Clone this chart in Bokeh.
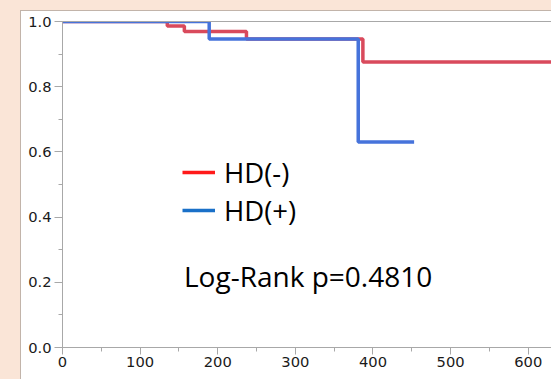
from bokeh.plotting import figure
from bokeh.models import (Range1d, SingleIntervalTicker, NumeralTickFormatter, Legend,
                          LegendItem, Label, LinearAxis, FixedTicker)
from bokeh.embed import file_html
from bokeh.resources import INLINE

# --- data (Kaplan-Meier step curves) ---
neg_time = [0, 135, 157, 237, 387, 640]
neg_surv = [1.0, 0.986, 0.969, 0.946, 0.876, 0.876]
pos_time = [0, 189, 381, 453]
pos_surv = [1.0, 0.946, 0.630, 0.630]
series_labels = ["HD(-)", "HD(+)"]
p_text = "Log-Rank p=0.4810"

PEACH = "#fae5d7"
EDGE = "#c2b4aa"
AX = "#a8a8a8"
NAN = float("nan")

p = figure(width=551, height=379, output_backend="svg", toolbar_location=None,
           x_range=Range1d(0, 630), y_range=Range1d(0, 1.0),
           min_border_left=62, min_border_right=0, min_border_top=21, min_border_bottom=32)
# transparent canvas border; the panel/peach surround is painted by the host element
p.border_fill_alpha = 0.0
p.background_fill_color = "white"
p.styles = {
    "background": (f"linear-gradient(white, white) 21px 11px / 100% 100% no-repeat, "
                   f"linear-gradient({EDGE}, {EDGE}) 20px 10px / 100% 100% no-repeat, "
                   f"{PEACH}"),
}
p.outline_line_color = None
p.grid.visible = False

# top frame line only (no right edge in the reference): an axis with no ticks
top_axis = LinearAxis(ticker=FixedTicker(ticks=[], minor_ticks=[]), axis_line_color=AX,
                      major_tick_line_color=None, minor_tick_line_color=None,
                      major_label_standoff=0, major_tick_out=0, minor_tick_out=0)
p.add_layout(top_axis, "above")

r_neg = p.step(neg_time, neg_surv, mode="after", line_color="#d94a5c", line_width=3.5)
r_pos = p.step(pos_time, pos_surv, mode="after", line_color="#4673db", line_width=3.5)

# legend swatches (no visible data)
l_neg = p.line(x=[NAN], y=[NAN], line_color="#ff1a1a", line_width=3.5)
l_pos = p.line(x=[NAN], y=[NAN], line_color="#1a70c8", line_width=3.5)
legend = Legend(items=[LegendItem(label=series_labels[0], renderers=[l_neg]),
                       LegendItem(label=series_labels[1], renderers=[l_pos])],
                location=(120, 118), orientation="vertical",
                glyph_width=33, glyph_height=38, spacing=0, padding=0, margin=0,
                label_standoff=9, label_text_font="Open Sans", label_text_font_size="27.5px",
                label_text_color="black", border_line_color=None,
                background_fill_alpha=0.0)
p.add_layout(legend, "center")

p.add_layout(Label(x=156.5, y=0.218, text=p_text, text_font="Open Sans",
                   text_font_size="28px", text_color="black", text_baseline="alphabetic"))

# axes
for ax in (p.below[0], p.left[0]):
    ax.axis_line_color = AX
    ax.major_tick_line_color = AX
    ax.minor_tick_line_color = AX
    ax.major_tick_in = 0
    ax.minor_tick_in = 0
    ax.major_label_text_font = "DejaVu Sans"
    ax.major_label_text_font_size = "14.7px"
    ax.major_label_text_color = "#1a1a1a"

p.below[0].ticker = SingleIntervalTicker(interval=100, num_minor_ticks=2)
p.below[0].major_tick_out = 7
p.below[0].minor_tick_out = 4
p.below[0].major_label_standoff = 2

p.left[0].ticker = SingleIntervalTicker(interval=0.2, num_minor_ticks=2)
p.left[0].formatter = NumeralTickFormatter(format="0.0")
p.left[0].major_tick_out = 8
p.left[0].minor_tick_out = 4
p.left[0].major_label_standoff = 3

open("out.html", "w").write(file_html(p, INLINE))
